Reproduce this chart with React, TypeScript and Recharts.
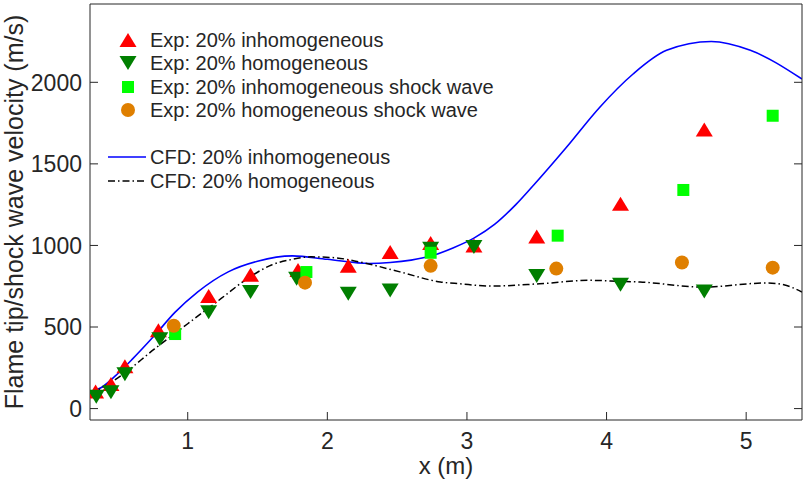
import { ComposedChart, Scatter, Line, XAxis, YAxis, Legend } from "recharts"

// experimental points
const expInhomX = [0.34, 0.45, 0.55, 0.79, 1.15, 1.45, 1.79, 2.15, 2.45, 2.74, 3.05, 3.5, 4.1, 4.7]
const expInhomY = [105, 150, 260, 480, 690, 820, 850, 875, 960, 1015, 1000, 1055, 1255, 1710]
const expHomX = [0.345, 0.45, 0.55, 0.8, 1.15, 1.45, 1.78, 2.15, 2.45, 2.74, 3.05, 3.5, 4.1, 4.7]
const expHomY = [72, 100, 210, 425, 590, 714, 796, 704, 724, 980, 991, 813, 759, 718]
const shockInhomX = [0.91, 1.85, 2.74, 3.65, 4.55, 5.19]
const shockInhomY = [457, 837, 955, 1060, 1340, 1795]
const shockHomX = [0.9, 1.84, 2.74, 3.64, 4.54, 5.19]
const shockHomY = [508, 772, 875, 858, 895, 864]

// CFD curves
const cfdInhomX = [0.3, 0.4, 0.5, 0.6, 0.76, 0.91, 1.07, 1.29, 1.5, 1.75, 2.0, 2.3, 2.45, 2.6, 2.74, 2.9, 3.05, 3.2, 3.35, 3.48, 3.71, 3.95, 4.19, 4.43, 4.75, 5.03, 5.4]
const cfdInhomY = [95, 140, 215, 300, 446, 591, 714, 838, 903, 936, 915, 889, 895, 910, 935, 985, 1045, 1130, 1250, 1372, 1599, 1846, 2051, 2196, 2250, 2196, 2020]
const cfdHomX = [0.3, 0.52, 0.76, 1.0, 1.24, 1.45, 1.6, 1.75, 1.88, 2.05, 2.23, 2.52, 2.81, 2.95, 3.17, 3.52, 3.88, 4.1, 4.24, 4.69, 5.15, 5.27, 5.4]
const cfdHomY = [86, 200, 364, 520, 675, 810, 880, 915, 930, 925, 899, 838, 776, 765, 751, 765, 786, 780, 776, 745, 770, 759, 714]

const xTicks = [1, 2, 3, 4, 5]
const yTicks = [0, 500, 1000, 1500, 2000]

const seriesNames = [
  "Exp: 20% inhomogeneous",
  "Exp: 20% homogeneous",
  "Exp: 20% inhomogeneous shock wave",
  "Exp: 20% homogeneous shock wave",
  "CFD: 20% inhomogeneous",
  "CFD: 20% homogeneous",
]

const pts = (xs: number[], ys: number[]) => xs.map((x, i) => ({ x, y: ys[i] }))

const FONT = "'Liberation Sans', Arial, Helvetica, sans-serif"
const AX = "#262626"
const RED = "#ff0000"
const DKGREEN = "#007f00"
const LIME = "#00ff00"
const ORANGE = "#df7f00"
const BLUE = "#0000ff"
const DASHDOT = "7 3 1.5 3"
const TICK_LEN = 8
const X_GAP = 13
const Y_GAP = 8

const triUp = (cx: number, cy: number, fill: string) => (
  <path d={`M${cx},${cy - 7}L${cx + 8.5},${cy + 7}L${cx - 8.5},${cy + 7}Z`} fill={fill} />
)
const triDown = (cx: number, cy: number, fill: string) => (
  <path d={`M${cx},${cy + 7}L${cx + 8.5},${cy - 7}L${cx - 8.5},${cy - 7}Z`} fill={fill} />
)
const square = (cx: number, cy: number, fill: string) => (
  <rect x={cx - 6} y={cy - 6} width={12} height={12} fill={fill} />
)
const circle = (cx: number, cy: number, fill: string) => <circle cx={cx} cy={cy} r={7} fill={fill} />

// ticks drawn inward, like the matlab box
const bottomTick = (p: any) => (
  <g>
    <line x1={p.x} x2={p.x} y1={p.y - X_GAP} y2={p.y - X_GAP - TICK_LEN} stroke={AX} />
    <text x={p.x} y={p.y} dy="0.71em" textAnchor="middle" fontSize={23} fill={AX} fontFamily={FONT}>
      {p.payload.value}
    </text>
  </g>
)
const leftTick = (p: any) => (
  <g>
    <line x1={p.x + Y_GAP} x2={p.x + Y_GAP + TICK_LEN} y1={p.y} y2={p.y} stroke={AX} />
    <text x={p.x} y={p.y} dy="0.36em" textAnchor="end" fontSize={23} fill={AX} fontFamily={FONT}>
      {p.payload.value}
    </text>
  </g>
)
const topTick = (p: any) => <line x1={p.x} x2={p.x} y1={p.y} y2={p.y + TICK_LEN} stroke={AX} />
const rightTick = (p: any) => <line x1={p.x} x2={p.x - TICK_LEN} y1={p.y} y2={p.y} stroke={AX} />

function LegendBox() {
  const rowY = [15, 38, 62, 85, 132, 156]
  const icons = [
    triUp(28, rowY[0], RED),
    triDown(28, rowY[1], DKGREEN),
    square(28, rowY[2], LIME),
    circle(28, rowY[3], ORANGE),
    <line x1={8} x2={46} y1={rowY[4]} y2={rowY[4]} stroke={BLUE} strokeWidth={1.5} />,
    <line x1={8} x2={46} y1={rowY[5]} y2={rowY[5]} stroke="#000" strokeWidth={1.5} strokeDasharray={DASHDOT} />,
  ]
  return (
    <svg width={430} height={175} style={{ display: "block" }}>
      {seriesNames.map((n, i) => (
        <g key={n}>
          {icons[i]}
          <text x={50} y={rowY[i]} dy="0.36em" fontSize={20} fill={AX} fontFamily={FONT}>
            {n}
          </text>
        </g>
      ))}
    </svg>
  )
}

export default function App() {
  return (
    <div style={{ position: "absolute", left: 0, top: 0, background: "#fff" }}>
      <ComposedChart width={804} height={483} margin={{ top: 3, right: 1, bottom: 3, left: 0 }}>
        <XAxis
          dataKey="x"
          type="number"
          domain={[0.3, 5.4]}
          allowDataOverflow
          ticks={xTicks}
          height={60}
          stroke={AX}
          axisLine
          tickLine={false}
          tickSize={0}
          tickMargin={X_GAP}
          tick={bottomTick}
          label={{ value: "x (m)", position: "insideBottom", offset: 6, style: { fontSize: 24, fill: AX, fontFamily: FONT } }}
        />
        <XAxis
          xAxisId="top"
          orientation="top"
          type="number"
          domain={[0.3, 5.4]}
          allowDataOverflow
          ticks={xTicks}
          height={1}
          stroke={AX}
          axisLine
          tickLine={false}
          tickSize={0}
          tickMargin={0}
          tick={topTick}
        />
        <YAxis
          dataKey="y"
          type="number"
          domain={[-70, 2480]}
          allowDataOverflow
          ticks={yTicks}
          width={90}
          stroke={AX}
          axisLine
          tickLine={false}
          tickSize={0}
          tickMargin={Y_GAP}
          tick={leftTick}
          label={{
            value: "Flame tip/shock wave velocity (m/s)",
            angle: -90,
            position: "insideLeft",
            offset: 14,
            style: { fontSize: 25, fill: AX, fontFamily: FONT, textAnchor: "middle" },
          }}
        />
        <YAxis
          yAxisId="right"
          orientation="right"
          type="number"
          domain={[-70, 2480]}
          allowDataOverflow
          ticks={yTicks}
          width={1}
          stroke={AX}
          axisLine
          tickLine={false}
          tickSize={0}
          tickMargin={0}
          tick={rightTick}
        />
        <Scatter
          name={seriesNames[0]}
          data={pts(expInhomX, expInhomY)}
          dataKey="y"
          isAnimationActive={false}
          shape={(p: any) => triUp(p.cx, p.cy, RED)}
        />
        <Scatter
          name={seriesNames[1]}
          data={pts(expHomX, expHomY)}
          dataKey="y"
          isAnimationActive={false}
          shape={(p: any) => triDown(p.cx, p.cy, DKGREEN)}
        />
        <Scatter
          name={seriesNames[2]}
          data={pts(shockInhomX, shockInhomY)}
          dataKey="y"
          isAnimationActive={false}
          shape={(p: any) => square(p.cx, p.cy, LIME)}
        />
        <Scatter
          name={seriesNames[3]}
          data={pts(shockHomX, shockHomY)}
          dataKey="y"
          isAnimationActive={false}
          shape={(p: any) => circle(p.cx, p.cy, ORANGE)}
        />
        <Line
          name={seriesNames[4]}
          data={pts(cfdInhomX, cfdInhomY)}
          dataKey="y"
          type="monotone"
          stroke={BLUE}
          strokeWidth={1.6}
          dot={false}
          activeDot={false}
          isAnimationActive={false}
        />
        <Line
          name={seriesNames[5]}
          data={pts(cfdHomX, cfdHomY)}
          dataKey="y"
          type="monotone"
          stroke="#000"
          strokeWidth={1.5}
          strokeDasharray={DASHDOT}
          dot={false}
          activeDot={false}
          isAnimationActive={false}
        />
        <Legend
          layout="vertical"
          align="center"
          verticalAlign="middle"
          wrapperStyle={{ left: 100, top: 25, width: 430, height: 175 }}
          content={() => <LegendBox />}
        />
      </ComposedChart>
    </div>
  )
}
